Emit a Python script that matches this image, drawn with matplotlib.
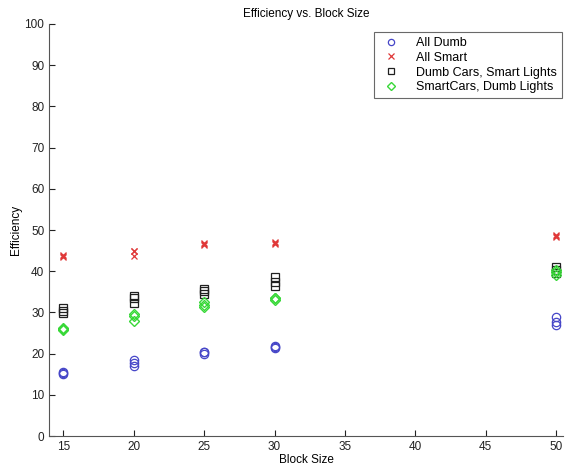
import matplotlib
matplotlib.use("Agg")
import matplotlib.pyplot as plt

plt.rcParams['font.family'] = ['Liberation Sans', 'DejaVu Sans']

block_sizes = [15, 20, 25, 30, 50]
all_dumb = [[15.2, 15.6, 15.4], [16.9, 17.8, 18.4], [20.0, 20.5, 20.3], [21.4, 21.8, 21.6], [26.9, 27.6, 28.8]]
all_smart = [[43.4, 44.0, 43.7], [43.6, 45.0, 44.8], [46.4, 46.8, 46.6], [46.6, 47.0, 46.8], [48.2, 48.9, 48.6]]
dumb_cars_smart_lights = [[29.8, 30.4, 31.0], [32.4, 33.5, 34.1], [34.6, 35.1, 35.7], [36.5, 37.5, 38.5], [39.6, 40.3, 41.0]]
smart_cars_dumb_lights = [[25.7, 26.2, 26.0], [27.9, 29.2, 29.7], [31.3, 31.9, 32.6], [33.0, 33.6, 33.4], [39.2, 39.9, 40.4]]
series_names = ["All Dumb", "All Smart", "Dumb Cars, Smart Lights", "SmartCars, Dumb Lights"]
xticks = [15, 20, 25, 30, 35, 40, 45, 50]
yticks = list(range(0, 101, 10))

fig = plt.figure(figsize=(5.66, 4.68), dpi=100)
ax = fig.add_axes([0.087, 0.068, 0.908, 0.881])

def flat(groups):
    xs, ys = [], []
    for x, vals in zip(block_sizes, groups):
        for v in vals:
            xs.append(x); ys.append(v)
    return xs, ys

styles = [
    dict(marker='o', mfc='none', mec='#4646c8', ms=6, mew=0.9),
    dict(marker='x', color='#e03838', ms=5, mew=0.9),
    dict(marker='s', mfc='none', mec='#202020', ms=5.5, mew=0.9),
    dict(marker='D', mfc='none', mec='#38d838', ms=5, mew=1.0),
]
for data, name, st in zip([all_dumb, all_smart, dumb_cars_smart_lights, smart_cars_dumb_lights], series_names, styles):
    xs, ys = flat(data)
    ax.plot(xs, ys, linestyle='none', label=name, **st)

ax.set_xlim(14, 50.5)
ax.set_ylim(0, 100)
ax.set_xticks(xticks)
ax.set_yticks(yticks)
ax.tick_params(direction='in', labelsize=8.5, colors='#222222', length=4)
for s in ['top', 'right']:
    ax.spines[s].set_visible(False)
for s in ['left', 'bottom']:
    ax.spines[s].set_color('#555555')
ax.set_xlabel('Block Size', fontsize=8.5, labelpad=1)
ax.set_ylabel('Efficiency', fontsize=8.5, labelpad=2)
ax.set_title('Efficiency vs. Block Size', fontsize=8.5, pad=5)
leg = ax.legend(loc='upper right', fontsize=9, frameon=True, fancybox=False,
                edgecolor='#444444', borderpad=0.4, handletextpad=1.0, labelspacing=0.22,
                markerscale=0.75, handlelength=2.0,
                bbox_to_anchor=(0.998, 0.98), borderaxespad=0.0)
leg.get_frame().set_linewidth(0.8)

fig.savefig('out.png', dpi=100)
